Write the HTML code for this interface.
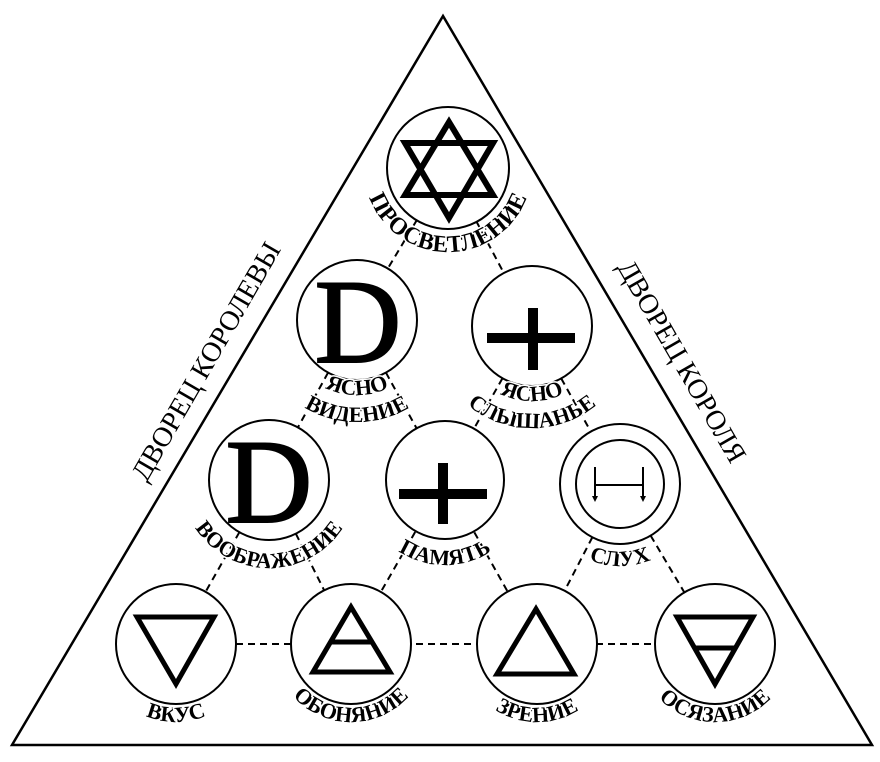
<!DOCTYPE html>
<html><head><meta charset="utf-8"><style>
html,body{margin:0;padding:0;background:#fff;}
svg{display:block;}
</style></head><body>
<svg width="880" height="762" viewBox="0 0 880 762" xmlns="http://www.w3.org/2000/svg" font-family="Liberation Serif, serif">
<defs>
<path id="a1" d="M364 168 A84 84 0 0 0 532 168"/>
<path id="a2a" d="M282 320 A75 75 0 0 0 432 320"/>
<path id="a2b" d="M255 320 A102 102 0 0 0 459 320"/>
<path id="a3a" d="M457 326 A75 75 0 0 0 607 326"/>
<path id="a3b" d="M430 326 A102 102 0 0 0 634 326"/>
<path id="a4" d="M181 480 A88 88 0 0 0 357 480"/>
<path id="a5" d="M360 480 A85 85 0 0 0 530 480"/>
<path id="a6" d="M538 484 A82 82 0 0 0 702 484"/>
<path id="a7" d="M98 644 A78 78 0 0 0 254 644"/>
<path id="a8" d="M273 644 A78 78 0 0 0 429 644"/>
<path id="a9" d="M459 644 A78 78 0 0 0 615 644"/>
<path id="a10" d="M637 644 A78 78 0 0 0 793 644"/>
</defs>
<polygon points="443,16 12,745 872,745" fill="none" stroke="#000" stroke-width="2.5"/>
<g stroke="#000" stroke-width="2" stroke-dasharray="7,5" fill="none">
<line x1="448" y1="168" x2="357" y2="320"/>
<line x1="448" y1="168" x2="532" y2="326"/>
<line x1="357" y1="320" x2="269" y2="480"/>
<line x1="357" y1="320" x2="445" y2="480"/>
<line x1="532" y1="326" x2="445" y2="480"/>
<line x1="532" y1="326" x2="620" y2="484"/>
<line x1="269" y1="480" x2="176" y2="644"/>
<line x1="269" y1="480" x2="351" y2="644"/>
<line x1="445" y1="480" x2="351" y2="644"/>
<line x1="445" y1="480" x2="537" y2="644"/>
<line x1="620" y1="484" x2="537" y2="644"/>
<line x1="620" y1="484" x2="715" y2="644"/>
<line x1="176" y1="644" x2="715" y2="644"/>
</g>
<g fill="#fff" stroke="#000" stroke-width="2">
<circle cx="448" cy="168" r="61"/>
<circle cx="357" cy="320" r="60"/>
<circle cx="532" cy="326" r="60"/>
<circle cx="269" cy="480" r="60"/>
<circle cx="445" cy="480" r="59"/>
<circle cx="620" cy="484" r="60"/>
<circle cx="620" cy="484" r="44"/>
<circle cx="176" cy="644" r="60"/>
<circle cx="351" cy="644" r="60"/>
<circle cx="537" cy="644" r="60"/>
<circle cx="715" cy="644" r="60"/>
</g>
<g fill="none" stroke="#000" stroke-width="6" stroke-linejoin="miter">
<polygon points="449,122 493,195 405,195"/>
<polygon points="405,143 493,143 449,218"/>
</g>
<g fill="none" stroke="#000" stroke-width="5">
<polygon points="137,617 214,617 176,684"/>
<polygon points="351,607 390,672 313,672"/>
<line x1="330" y1="642" x2="372" y2="642"/>
<polygon points="536,609 574,674 497,674"/>
<polygon points="677,617 753,617 715,684"/>
<line x1="695" y1="648" x2="735" y2="648"/>
</g>
<g fill="#000">
<rect x="487" y="333" width="88" height="10"/><rect x="528" y="308" width="10" height="62"/>
<rect x="399" y="489" width="88" height="10"/><rect x="438" y="463" width="10" height="61"/>
</g>
<g stroke="#000" stroke-width="2" fill="none">
<line x1="595" y1="467" x2="595" y2="500"/>
<line x1="643" y1="467" x2="643" y2="500"/>
<line x1="595" y1="485" x2="643" y2="485"/>
</g>
<g fill="#000"><polygon points="592,496 598,496 595,502"/><polygon points="640,496 646,496 643,502"/></g>
<text x="358" y="362" font-size="120" text-anchor="middle" style="stroke:#000;stroke-width:2px">D</text>
<text x="269" y="522" font-size="120" text-anchor="middle" style="stroke:#000;stroke-width:2px">D</text>
<g style="font-size:22px;font-weight:bold;paint-order:stroke;stroke:#fff;stroke-width:3px;fill:#000">
<text style="font-size:24px"><textPath href="#a1" startOffset="50%" text-anchor="middle">ПРОСВЕТЛЕНИЕ</textPath></text>
<text><textPath href="#a2a" startOffset="50%" text-anchor="middle">ЯСНО</textPath></text>
<text><textPath href="#a2b" startOffset="50%" text-anchor="middle">ВИДЕНИЕ</textPath></text>
<text><textPath href="#a3a" startOffset="50%" text-anchor="middle">ЯСНО</textPath></text>
<text><textPath href="#a3b" startOffset="50%" text-anchor="middle">СЛЫШАНЬЕ</textPath></text>
<text><textPath href="#a4" startOffset="50%" text-anchor="middle">ВООБРАЖЕНИЕ</textPath></text>
<text><textPath href="#a5" startOffset="50%" text-anchor="middle">ПАМЯТЬ</textPath></text>
<text><textPath href="#a6" startOffset="50%" text-anchor="middle">СЛУХ</textPath></text>
<text><textPath href="#a7" startOffset="50%" text-anchor="middle">ВКУС</textPath></text>
<text><textPath href="#a8" startOffset="50%" text-anchor="middle">ОБОНЯНИЕ</textPath></text>
<text><textPath href="#a9" startOffset="50%" text-anchor="middle">ЗРЕНИЕ</textPath></text>
<text><textPath href="#a10" startOffset="50%" text-anchor="middle">ОСЯЗАНИЕ</textPath></text>
</g>
<text font-size="28" text-anchor="middle" transform="translate(214,366) rotate(-60)">ДВОРЕЦ КОРОЛЕВЫ</text>
<text font-size="28" text-anchor="middle" transform="translate(674,366) rotate(60)">ДВОРЕЦ КОРОЛЯ</text>
</svg>
</body></html>
